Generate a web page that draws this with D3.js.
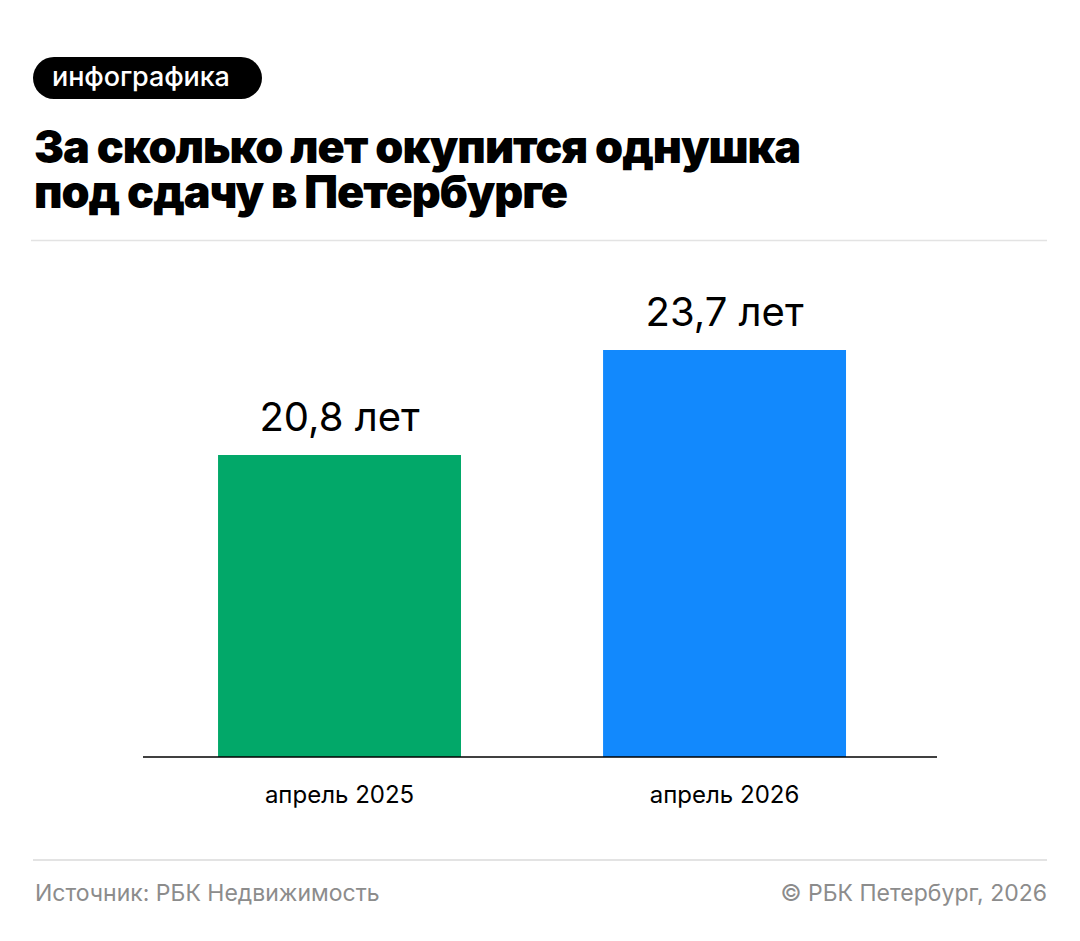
<!DOCTYPE html>
<html><head><meta charset="utf-8">
<script src="https://cdn.jsdelivr.net/npm/d3@7/dist/d3.min.js"></script>
<style>html,body{margin:0;padding:0;background:#fff;}svg{display:block;}</style>
</head><body>
<script>
const categories = ["апрель 2025", "апрель 2026"];
const values = [20.8, 23.7];
const valueLabels = ["20,8 лет", "23,7 лет"];
const colors = ["#02A869", "#1289FD"];
const titleLines = ["За сколько лет окупится однушка", "под сдачу в Петербурге"];
const tag = "инфографика";
const source = "Источник: РБК Недвижимость";
const copyright = "© РБК Петербург, 2026";

const W = 1080, H = 941;
const F = "Inter";
const svg = d3.select("body").append("svg").attr("width", W).attr("height", H);

// tag pill
svg.append("rect").attr("x", 33).attr("y", 57).attr("width", 229).attr("height", 42)
  .attr("rx", 21).attr("fill", "#000");
svg.append("text").attr("x", 52).attr("y", 86)
  .attr("font-family", F).attr("font-weight", 500).attr("font-size", 27)
  .attr("letter-spacing", -0.1).attr("fill", "#fff").text(tag);

// title (one text element, two lines)
const title = svg.append("text").attr("x", 34).attr("y", 163)
  .attr("font-family", F).attr("font-weight", 900).attr("font-size", 45)
  .attr("letter-spacing", -1.05).attr("fill", "#000");
title.selectAll("tspan").data(titleLines).join("tspan")
  .attr("x", 34).attr("dy", (d, i) => i === 0 ? 0 : 45).text(d => d);

// separators
svg.append("line").attr("x1", 31).attr("x2", 1047).attr("y1", 240.5).attr("y2", 240.5)
  .attr("stroke", "#e3e3e3").attr("stroke-width", 1.5);
svg.append("line").attr("x1", 33).attr("x2", 1047).attr("y1", 860).attr("y2", 860)
  .attr("stroke", "#e3e3e3").attr("stroke-width", 2);

// scales
const x = d3.scaleBand().domain(categories).range([143, 937])
  .paddingInner(0.369).paddingOuter(0.2156).align(0.452);
const y = d3.scaleLinear().domain([12.46, 23.7]).range([757, 350]);

const g = svg.append("g");
g.selectAll("rect.bar").data(values).join("rect").attr("class", "bar")
  .attr("x", (d, i) => x(categories[i])).attr("width", x.bandwidth())
  .attr("y", d => y(d)).attr("height", d => y.range()[0] - y(d))
  .attr("fill", (d, i) => colors[i]);

g.selectAll("text.val").data(values).join("text").attr("class", "val")
  .attr("x", (d, i) => x(categories[i]) + x.bandwidth() / 2)
  .attr("y", d => y(d) - 24)
  .attr("text-anchor", "middle").attr("font-family", F).attr("font-size", 40)
  .attr("fill", "#000").text((d, i) => valueLabels[i]);

// axis
const axis = g.append("g").attr("transform", "translate(0,757)")
  .call(d3.axisBottom(x).tickSize(0).tickPadding(0));
axis.select(".domain").attr("d", "M143,0H937").attr("stroke", "#000").attr("stroke-width", 1.5);
axis.selectAll(".tick text").attr("font-family", F).attr("font-size", 24)
  .attr("fill", "#000").attr("dy", null).attr("y", 46);

// footer
svg.append("text").attr("x", 35).attr("y", 901).attr("font-family", F)
  .attr("font-size", 23).attr("fill", "#8c8c8c").text(source);
svg.append("text").attr("x", 1047).attr("y", 901).attr("text-anchor", "end").attr("font-family", F)
  .attr("font-size", 23).attr("fill", "#8c8c8c").text(copyright);
</script>
</body></html>
